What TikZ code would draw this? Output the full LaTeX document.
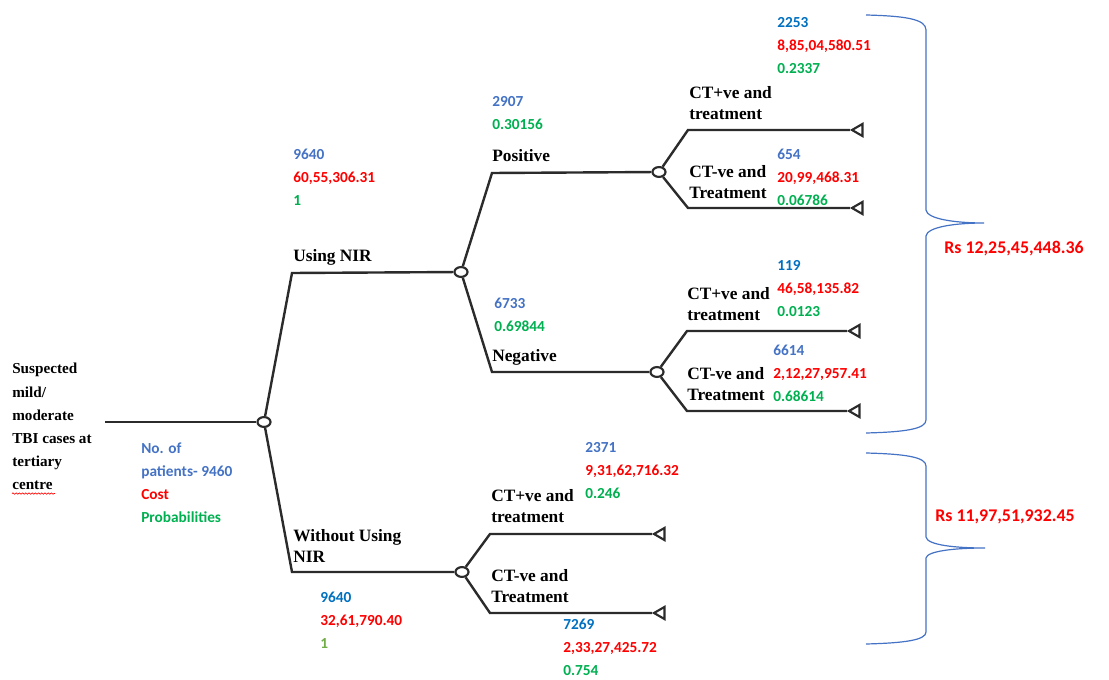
\documentclass[tikz,border=0pt]{standalone}
\usepackage{fontspec}
\setmainfont{Liberation Serif}
\newfontfamily\numfont{Carlito}
\usepackage{xcolor}
\usetikzlibrary{shapes,decorations.pathmorphing}

\definecolor{nirblue}{HTML}{4472C4}
\definecolor{deepblue}{HTML}{0070C0}
\definecolor{costred}{HTML}{FF0000}
\definecolor{probgreen}{HTML}{00B050}
\definecolor{olivegreen}{HTML}{70AD47}
\definecolor{treeline}{HTML}{2B2B2B}

\begin{document}
\begin{tikzpicture}[x=0.75pt, y=-0.75pt,
    branch/.style={draw=treeline, line width=1.8pt},
    chance/.style={ellipse, draw=treeline, line width=1.6pt, fill=white, minimum width=9.8pt, minimum height=7.4pt, inner sep=0pt},
    terminal/.style={regular polygon, regular polygon sides=3, shape border rotate=90, draw=treeline, line width=1.6pt, fill=white, minimum size=10.5pt, inner sep=0pt},
    lbl/.style={anchor=north west, inner sep=0pt, align=left, font=\bfseries\fontsize{13}{15.75}\selectfont},
    num/.style={anchor=north west, inner sep=0pt, align=left, font=\numfont\bfseries\fontsize{11.5}{17.25}\selectfont},
    total/.style={anchor=west, inner sep=0pt, text=costred, font=\numfont\bfseries\fontsize{13.4}{16}\selectfont},
    brace/.style={draw=nirblue, line width=0.9pt}]
  \useasboundingbox (0,0) rectangle (1109,680);

  % decision tree
  \coordinate (s) at (105,422);
  \node[chance] (c0) at (264,422) {};
  \node[chance] (c1) at (461,272) {};
  \node[chance] (c2) at (659,172) {};
  \node[chance] (c3) at (657,372) {};
  \node[chance] (c4) at (462,572) {};
  \coordinate (k1) at (292,273);
  \coordinate (k2) at (292,572);
  \coordinate (k3) at (492,173);
  \coordinate (k4) at (492,372);
  \coordinate (k5) at (688,130);
  \coordinate (k6) at (688,208);
  \coordinate (k7) at (687,331);
  \coordinate (k8) at (687,411);
  \coordinate (k9) at (490,534);
  \coordinate (k10) at (490,613);
  \node[terminal] (t1) at (859,130) {};
  \node[terminal] (t2) at (859,208) {};
  \node[terminal] (t3) at (856,331) {};
  \node[terminal] (t4) at (856,411) {};
  \node[terminal] (t5) at (661,534) {};
  \node[terminal] (t6) at (661,613) {};

  \draw[branch] (s) -- (c0);
  \draw[branch] (c0) -- (k1) -- (c1);
  \draw[branch] (c0) -- (k2) -- (c4);
  \draw[branch] (c1) -- (k3) -- (c2);
  \draw[branch] (c1) -- (k4) -- (c3);
  \draw[branch] (c2) -- (k5) -- (t1.corner 1);
  \draw[branch] (c2) -- (k6) -- (t2.corner 1);
  \draw[branch] (c3) -- (k7) -- (t3.corner 1);
  \draw[branch] (c3) -- (k8) -- (t4.corner 1);
  \draw[branch] (c4) -- (k9) -- (t5.corner 1);
  \draw[branch] (c4) -- (k10) -- (t6.corner 1);

  % labels
  \node[lbl, font=\bfseries\fontsize{11.4}{17.4}\selectfont] (cases) at (12,363) {Suspected\\mild/\\moderate\\TBI cases at\\tertiary\\centre};
  \draw[costred, line width=0.5pt, decorate, decoration={snake, amplitude=0.5pt, segment length=2.4pt}]
    ([yshift=-2.5pt]cases.south west) -- ++(43,0);
  \node[num] (legend) at (141,443) {\textcolor{nirblue}{No. of}\\\textcolor{nirblue}{patients- 9460}\\\textcolor{costred}{Cost}\\\textcolor{probgreen}{Probabilities}};
  \node[lbl] (usenir) at (293,249) {Using NIR};
  \node[lbl] (withoutnir) at (293,529) {Without Using\\NIR};
  \node[lbl] (pos) at (492,149) {Positive};
  \node[lbl] (neg) at (492,349) {Negative};
  \node[lbl] (ctp1) at (689,86) {CT+ve and\\treatment};
  \node[lbl] (ctn1) at (689,165) {CT-ve and\\Treatment};
  \node[lbl] (ctp2) at (687,287) {CT+ve and\\treatment};
  \node[lbl] (ctn2) at (687,367) {CT-ve and\\Treatment};
  \node[lbl] (ctp3) at (491,489) {CT+ve and\\treatment};
  \node[lbl] (ctn3) at (491,569) {CT-ve and\\Treatment};

  % numbers, costs, probabilities
  \node[num] (nnir) at (293,149) {\textcolor{nirblue}{9640}\\\textcolor{costred}{60,55,306.31}\\\textcolor{probgreen}{1}};
  \node[num] (npos) at (492,96) {\textcolor{nirblue}{2907}\\\textcolor{probgreen}{0.30156}};
  \node[num] (nneg) at (494,298) {\textcolor{nirblue}{6733}\\\textcolor{probgreen}{0.69844}};
  \node[num] (n1) at (777,17) {\textcolor{deepblue}{2253}\\\textcolor{costred}{8,85,04,580.51}\\\textcolor{probgreen}{0.2337}};
  \node[num] (n2) at (777,149) {\textcolor{nirblue}{654}\\\textcolor{costred}{20,99,468.31}\\\textcolor{probgreen}{0.06786}};
  \node[num] (n3) at (777,260) {\textcolor{deepblue}{119}\\\textcolor{costred}{46,58,135.82}\\\textcolor{probgreen}{0.0123}};
  \node[num] (n4) at (773,345) {\textcolor{nirblue}{6614}\\\textcolor{costred}{2,12,27,957.41}\\\textcolor{probgreen}{0.68614}};
  \node[num] (nwo) at (320,592) {\textcolor{deepblue}{9640}\\\textcolor{costred}{32,61,790.40}\\\textcolor{olivegreen}{1}};
  \node[num] (n5) at (585,442) {\textcolor{nirblue}{2371}\\\textcolor{costred}{9,31,62,716.32}\\\textcolor{probgreen}{0.246}};
  \node[num] (n6) at (563,619) {\textcolor{deepblue}{7269}\\\textcolor{costred}{2,33,27,425.72}\\\textcolor{probgreen}{0.754}};

  % braces and totals
  \draw[brace] (866,15) .. controls (905,16) and (926,19) .. (926,30) -- (926,210)
    .. controls (927,219) and (955,223) .. (984,223)
    .. controls (955,223) and (927,227) .. (926,236) -- (926,420)
    .. controls (926,429) and (905,432) .. (866,433);
  \draw[brace] (866,453) .. controls (905,454) and (926,457) .. (926,466) -- (926,537)
    .. controls (927,545) and (955,548) .. (985,548)
    .. controls (955,548) and (927,551) .. (926,558) -- (926,632)
    .. controls (926,640) and (905,643) .. (866,644);
  \node[total] (tot1) at (944,249) {Rs 12,25,45,448.36};
  \node[total] (tot2) at (935,517) {Rs 11,97,51,932.45};
\end{tikzpicture}
\end{document}
